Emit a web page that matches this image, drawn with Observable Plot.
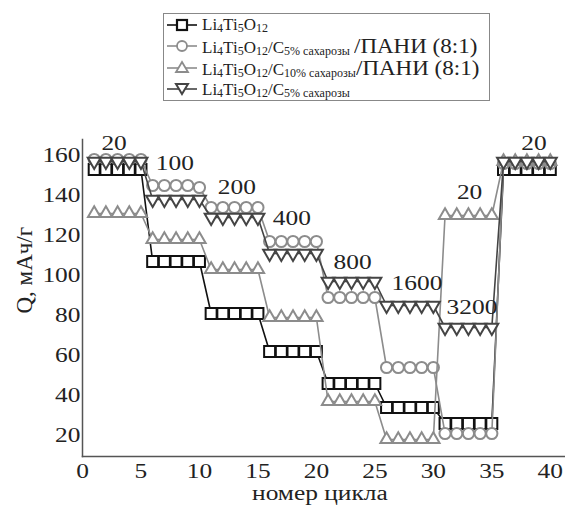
<!DOCTYPE html>
<html><head><meta charset="utf-8">
<script src="https://cdn.jsdelivr.net/npm/d3@7"></script>
<script src="https://cdn.jsdelivr.net/npm/@observablehq/plot@0.6"></script>
<style>
body{margin:0;background:#fff;font-family:'Liberation Serif','Times New Roman','DejaVu Serif',serif;}
#wrap{position:relative;width:565px;height:506px;overflow:hidden;}
#legend{position:absolute;left:163px;top:13px;width:327px;height:88px;border:1px solid #888;box-sizing:border-box;padding:0 2px;color:#222;}
.row{display:flex;align-items:center;height:21.5px;font-size:17px;white-space:nowrap;line-height:1;}
.row svg{margin-right:4px;flex:none;}
.sb{font-size:12px;position:relative;top:2px;}
.sm{font-size:12px;position:relative;top:2px;}
.big{display:inline-block;font-size:20px;transform:scaleX(1.15);transform-origin:left center;}
#chart{position:absolute;left:0;top:115px;}
#chart svg text{font-family:'Liberation Serif','Times New Roman','DejaVu Serif',serif;}
</style></head>
<body><div id="wrap"><div id="legend"></div><div id="chart"></div></div>
<script>
// ---- data ----
const cycles = [1,2,3,4,5,6,7,8,9,10,11,12,13,14,15,16,17,18,19,20,21,22,23,24,25,26,27,28,29,30,31,32,33,34,35,36,37,38,39,40];
const lto = [153,153,153,153,153, 107,107,107,107,107, 81,81,81,81,81, 62,62,62,62,62, 46,46,46,46,46, 34,34,34,34,34, 26,26,26,26,26, 153,153,153,153,153];
const ltoC5Pani = [158,158,158,158,158, 145,145,145,145,144, 134,134,134,134,134, 117,117,117,117,117, 89,89,89,89,89, 54,54,54,54,54, 21,21,21,21,21, 156,156,156,156,156];
const ltoC10Pani = [131,131,131,131,131, 118,118,118,118,118, 103,103,103,103,103, 79,79,79,79,79, 37,37,37,37,37, 18,18,18,18,18, 130,130,130,130,130, 157,157,157,157,157];
const ltoC5 = [157,157,157,157,157, 138,138,138,138,138, 129,129,129,129,129, 111,111,111,111,111, 97,97,97,97,97, 85,85,85,85,85, 74,74,74,74,74, 157,157,157,157,157];
const rateLabels = ["20","100","200","400","800","1600","3200","20","20"];
const rateX = [2.7,7.9,13.2,17.9,23.1,28.6,33.3,33.1,38.6];
const rateY = [166,156,144,128.5,106.5,96,84,141.5,166];
const xTicks = [0,5,10,15,20,25,30,35,40];
const yTicks = [20,40,60,80,100,120,140,160];
const xTitle = "номер цикла";
const yTitle = "Q, мАч/г";

const FONT = "'Liberation Serif','Times New Roman','DejaVu Serif',serif";
const STRETCH = 1.27;
const triDown = {draw(ctx, size){const y=Math.sqrt(size/(Math.sqrt(3)*3));ctx.moveTo(0,y*2);ctx.lineTo(-Math.sqrt(3)*y,-y);ctx.lineTo(Math.sqrt(3)*y,-y);ctx.closePath();}};

const series = [
  {values: lto, color:"#111", symbol:"square", r:6.2},
  {values: ltoC5Pani, color:"#8c8c8c", symbol:"circle", r:5.6},
  {values: ltoC10Pani, color:"#8c8c8c", symbol:"triangle", r:4.6},
  {values: ltoC5, color:"#444", symbol:triDown, r:4.8}
];
const marks = [];
for (const s of series) {
  const rows = cycles.map((c,k)=>({c, v:s.values[k]}));
  marks.push(Plot.line(rows,{x:"c",y:"v",stroke:s.color,strokeWidth:1.6}));
  marks.push(Plot.dot(rows,{x:"c",y:"v",symbol:()=>s.symbol,r:s.r,fill:"white",stroke:s.color,strokeWidth:2}));
}
const labels = rateLabels.map((t,k)=>({t,x:rateX[k],y:rateY[k]}));

const chart = Plot.plot({
  width:565, height:391, marginLeft:82, marginRight:0, marginTop:24, marginBottom:50,
  style:{fontFamily:FONT, fontSize:"20px", color:"#222", background:"white"},
  x:{domain:[0,41.3], ticks:xTicks, tickSize:0, tickPadding:7, label:null},
  y:{domain:[9.5,168], ticks:yTicks, tickSize:0, tickPadding:2, label:null},
  marks:[
    Plot.frame({anchor:"left", stroke:"#555", strokeWidth:1.5}),
    Plot.frame({anchor:"bottom", stroke:"#555", strokeWidth:1.5}),
    ...marks,
    Plot.text(labels,{x:"x",y:"y",text:"t",fontSize:20,fill:"#222"}),
    Plot.text([yTitle],{frameAnchor:"left",y:[81],text:d=>d,rotate:-90,dx:-58,fontSize:23,fill:"#222"}),
    Plot.text([xTitle],{frameAnchor:"bottom",x:[20.3],text:d=>d,dy:43,fontSize:20,fill:"#222"})
  ]
});
// the reference typesetting is horizontally widened: stretch each (non-rotated) text about its anchor
chart.querySelectorAll("text").forEach(t=>{
  const tr = t.getAttribute("transform") || "";
  if (tr.includes("rotate")) return;
  const ax = +(t.getAttribute("x")||0);
  t.setAttribute("transform", `${tr} translate(${ax},0) scale(${STRETCH},1) translate(${-ax},0)`);
});
document.getElementById("chart").appendChild(chart);

// ---- legend ----
function icon(i){
  const s = series[i];
  let m;
  if (i===0) m = `<rect x="11" y="5" width="10" height="10" fill="white" stroke="${s.color}" stroke-width="2.2"/>`;
  else if (i===1) m = `<circle cx="16" cy="10" r="5" fill="white" stroke="${s.color}" stroke-width="1.8"/>`;
  else if (i===2) m = `<path d="M16,4 L22,14 L10,14 Z" fill="white" stroke="${s.color}" stroke-width="1.8"/>`;
  else m = `<path d="M16,15 L22,5 L10,5 Z" fill="white" stroke="${s.color}" stroke-width="2"/>`;
  return `<svg width="32" height="20"><line x1="1" x2="31" y1="10" y2="10" stroke="${s.color}" stroke-width="1.6"/>${m}</svg>`;
}
const lto_t = `Li<span class="sb">4</span>Ti<span class="sb">5</span>O<span class="sb">12</span>`;
const legendTexts = [
  lto_t,
  `${lto_t}/C<span class="sm">5% сахарозы</span> <span class="big">/ПАНИ (8:1)</span>`,
  `${lto_t}/C<span class="sm">10% сахарозы</span><span class="big">/ПАНИ (8:1)</span>`,
  `${lto_t}/C<span class="sm">5% сахарозы</span>`
];
document.getElementById("legend").innerHTML = legendTexts.map((t,i)=>`<div class="row">${icon(i)}<span>${t}</span></div>`).join("");
</script></body></html>
